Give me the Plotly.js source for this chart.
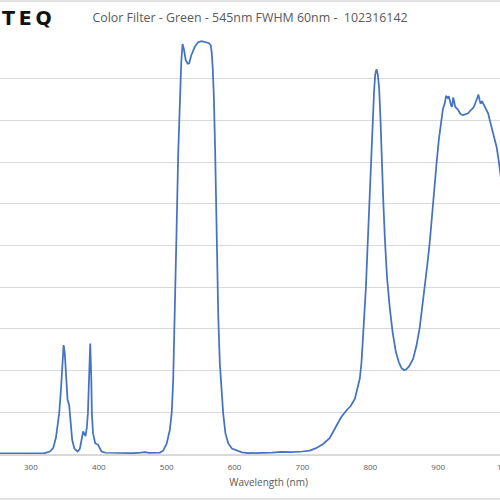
<!DOCTYPE html>
<html>
<head>
<meta charset="utf-8">
<script src="https://cdn.plot.ly/plotly-3.0.1.min.js"></script>
<style>
html,body{margin:0;padding:0;width:500px;height:500px;overflow:hidden;background:#fff;}
#chart{position:absolute;left:-100px;top:0;width:700px;height:500px;}
</style>
</head>
<body>
<div id="chart"></div>
<script>
const chartTitle = "Color Filter - Green - 545nm FWHM 60nm - \u00a0102316142";
const xAxisTitle = "Wavelength (nm)";
const logoText = "T\u2009E\u2009Q";

const wavelength = [
200,250,300,320,328,333,337,341.7,344.5,346.5,348.2,350,352,354,356.4,358.5,360.8,364,368.8,372,375,377,380.5,382.5,384,385.7,387.4,389,389.8,391.5,394.7,399,401.5,404,410,430,450,462,468,474,485,490,
494.8,500,504.7,507.5,509.6,512,514.6,517,519.4,521.5,523.4,525.5,528,531,533.2,536,541.5,546,551.3,557,562.6,565,566.5,568,569.5,571.5,573.5,576,578.3,581,583.2,586.5,590.6,596,603,611,620,640,655,669,685,700,
710.9,720,730.5,740,750.2,757,765,771,777.2,781,784.5,787,789.4,791.5,793.4,796,798.3,800.8,803.2,805.5,807.2,809.1,811,813,815,816.5,819,821.4,824.5,828.7,833,837.6,842,846,849.8,853,857,863,868,872.9,876.5,880.3,884,887.6,892.5,897.5,901,904.8,907,909.7,911.5,913.7,915.5,917,918.8,920.5,922,923.5,925,927,929.5,931.8,934,936.7,940,944,946.5,949,951.4,953,955.4,957.5,959.3,961,962.5,964.5,967.2,970,973.5,976,978.5,980.9,983.5,985.9,988.5,990.8,995
];
const transmission = [
0.1,0.1,0.1,0.2,0.6,1.5,4,9.8,16,22,26.1,24,18,13,11.7,7,3.4,1.3,0.6,1.2,3.5,5.4,4.3,6.5,9.8,20,26.5,18,9.8,5,2.6,2.2,1.2,0.6,0.3,0.2,0.2,0.35,0.45,0.3,0.3,0.35,
0.8,2.5,5.8,10,17.7,33,53.7,72,85.7,94,98.3,97,94.5,93.6,93.7,95.5,97.7,98.7,99.0,98.8,98.5,98,96,92,85.7,72,53.7,33,21.8,14,9.8,5,2.6,1.3,0.8,0.4,0.2,0.2,0.35,0.5,0.45,0.6,
0.8,1.4,2.4,3.8,7.0,8.8,10.5,11.5,13.2,15.5,18.1,22,27.7,33.5,39.7,50,59.7,70,79.7,87,91,92.3,91,87.7,80,71.7,61,51.7,42.5,34.9,29,24.5,22,20.6,20.1,20.3,21,22.8,26,30.5,35,40.1,45.5,50.9,60.9,69.7,75.5,80.9,82.8,84.1,85.9,85.4,85.8,84.9,83.6,83.3,85.5,84.5,83.3,82.9,82.5,81.8,81.4,81.3,81.4,81.7,82.2,82.5,83,83.4,84.5,85.3,86.2,84.8,84,84.6,83.8,82.8,81.7,80,78.5,77.3,75.5,73.7,71,68.1,63
];
const xTickVals = [300,400,500,600,700,800,900,1000];
const yTickVals = [0,10,20,30,40,50,60,70,80,90,100];

const trace = {
  x: wavelength, y: transmission, type: 'scatter', mode: 'lines',
  line: {color: '#4472C4', width: 1.75}, hoverinfo: 'skip'
};

const layout = {
  width: 700, height: 500,
  margin: {l: 63, r: 26, t: 37, b: 46},
  paper_bgcolor: '#ffffff', plot_bgcolor: '#ffffff',
  showlegend: false,
  title: {
    text: chartTitle, xref: 'container', x: 0.5, xanchor: 'center',
    yref: 'container', y: 1 - 18/500, yanchor: 'middle',
    font: {family: 'Open Sans, sans-serif', size: 12.4, color: '#595959'}
  },
  xaxis: {
    range: [200, 1100], tickvals: xTickVals, ticks: '',
    showgrid: false, zeroline: false,
    showline: true, linecolor: '#d9d9d9', linewidth: 1.5,
    tickfont: {family: 'Open Sans, sans-serif', size: 8, color: '#595959'},
    ticklabelstandoff: 5,
    title: {text: xAxisTitle, standoff: 8,
      font: {family: 'Open Sans, sans-serif', size: 10, color: '#595959'}}
  },
  yaxis: {
    range: [0, 100], tickvals: yTickVals, showticklabels: false, ticks: '',
    showgrid: true, gridcolor: '#d9d9d9', gridwidth: 1, zeroline: false, showline: false
  },
  annotations: [{
    text: '<b>' + logoText + '</b>', xref: 'paper', x: (100 - 63)/611, xanchor: 'left',
    yref: 'paper', y: (454 - 18)/417, yanchor: 'middle', showarrow: false,
    font: {family: 'DejaVu Sans, sans-serif', size: 19, color: '#111111'}
  }],
  shapes: [
    {type: 'line', xref: 'paper', yref: 'paper', x0: -0.2, x1: 1.2, y0: (454 - 1)/417, y1: (454 - 1)/417,
     line: {color: '#d9d9d9', width: 1.5}},
    {type: 'line', xref: 'paper', yref: 'paper', x0: -0.2, x1: 1.2, y0: (454 - 499)/417, y1: (454 - 499)/417,
     line: {color: '#d9d9d9', width: 1.5}}
  ]
};

Plotly.newPlot('chart', [trace], layout, {displayModeBar: false, staticPlot: true});
</script>
</body>
</html>
